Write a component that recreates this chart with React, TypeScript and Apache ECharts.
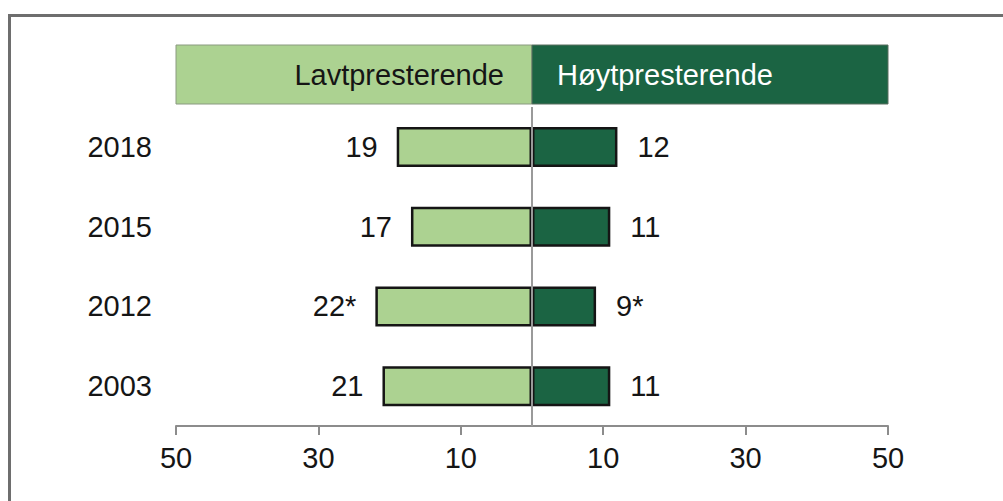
import React, { useEffect, useRef } from "react";
import * as echarts from "echarts";

const years = ["2018", "2015", "2012", "2003"];
const lowValues = [19, 17, 22, 21];
const highValues = [12, 11, 9, 11];
const lowMarks = ["", "", "*", ""];
const highMarks = ["", "", "*", ""];
const tickValues = [-50, -30, -10, 10, 30, 50];
const lowTitle = "Lavtpresterende";
const highTitle = "Høytpresterende";

const FONT = "'Liberation Sans', Arial, Helvetica, sans-serif";
const FS = 29;
const TXT = "#151515";
const LIGHT = "#acd291";
const DARK = "#1b6443";

export default function App() {
  const ref = useRef<HTMLDivElement>(null);
  useEffect(() => {
    if (!ref.current) return;
    const chart = echarts.init(ref.current, null, { renderer: "svg" });
    const option: any = {
      animation: false,
      backgroundColor: "#ffffff",
      textStyle: { fontFamily: FONT },
      grid: { left: 176, right: 115, top: 107, bottom: 75, containLabel: false },
      xAxis: {
        type: "value",
        min: -50,
        max: 50,
        splitLine: { show: false },
        axisLine: { show: true, lineStyle: { color: "#8c8c8c", width: 2 } },
        axisTick: {
          show: true,
          length: 9,
          inside: false,
          customValues: tickValues,
          lineStyle: { color: "#8c8c8c", width: 2 },
        },
        axisLabel: {
          customValues: tickValues,
          formatter: (v: number) => String(Math.abs(v)),
          fontSize: FS,
          color: TXT,
          fontFamily: FONT,
          margin: 17,
        },
      },
      yAxis: {
        type: "category",
        data: years,
        inverse: true,
        axisLine: { show: false },
        axisTick: { show: false },
        splitLine: { show: false },
        axisLabel: {
          fontSize: FS,
          color: TXT,
          fontFamily: FONT,
          margin: 24,
        },
      },
      series: [
        {
          name: lowTitle,
          type: "bar",
          stack: "total",
          barWidth: 40,
          data: lowValues.map((v) => -v),
          itemStyle: { color: LIGHT, borderColor: "#151515", borderWidth: 2.5 },
          label: {
            show: true,
            position: "left",
            distance: 19,
            fontSize: FS,
            color: TXT,
            fontFamily: FONT,
            formatter: (p: any) => String(lowValues[p.dataIndex]) + lowMarks[p.dataIndex],
          },
          markLine: {
            silent: true,
            symbol: "none",
            label: { show: false },
            lineStyle: { color: "#9a9a9a", width: 2, type: "solid" },
            data: [{ xAxis: 0 }],
          },
        },
        {
          name: highTitle,
          type: "bar",
          stack: "total",
          barWidth: 40,
          data: highValues,
          itemStyle: { color: DARK, borderColor: "#151515", borderWidth: 2.5 },
          label: {
            show: true,
            position: "right",
            distance: 20,
            fontSize: FS,
            color: TXT,
            fontFamily: FONT,
            formatter: (p: any) => String(highValues[p.dataIndex]) + highMarks[p.dataIndex],
          },
        },
      ],
    };
    chart.setOption(option);

    const xl = chart.convertToPixel({ xAxisIndex: 0 }, -50) as number;
    const xc = chart.convertToPixel({ xAxisIndex: 0 }, 0) as number;
    const xr = chart.convertToPixel({ xAxisIndex: 0 }, 50) as number;
    const top = 45;
    const h = 59;
    chart.setOption({
      graphic: [
        {
          type: "rect",
          shape: { x: 9.5, y: 15.5, width: 1010, height: 510 },
          style: { fill: "none", stroke: "#6e6e6e", lineWidth: 3 },
          silent: true,
          z: 10,
        },
        {
          type: "rect",
          shape: { x: xl, y: top, width: xc - xl, height: h },
          style: { fill: LIGHT, stroke: "#8a9a80", lineWidth: 1 },
          silent: true,
        },
        {
          type: "rect",
          shape: { x: xc, y: top, width: xr - xc, height: h },
          style: { fill: DARK, stroke: "#5a6e60", lineWidth: 1 },
          silent: true,
        },
        {
          type: "text",
          x: xc - 28,
          y: top + h / 2,
          style: {
            text: lowTitle,
            fill: TXT,
            font: `${FS}px ${FONT}`,
            align: "right",
            verticalAlign: "middle",
          },
          silent: true,
        },
        {
          type: "text",
          x: xc + 25,
          y: top + h / 2,
          style: {
            text: highTitle,
            fill: "#ffffff",
            font: `${FS}px ${FONT}`,
            align: "left",
            verticalAlign: "middle",
          },
          silent: true,
        },
      ],
    });
    return () => chart.dispose();
  }, []);
  return (
    <div
      ref={ref}
      style={{ position: "fixed", left: 0, top: 0, width: 1003, height: 501 }}
    />
  );
}
